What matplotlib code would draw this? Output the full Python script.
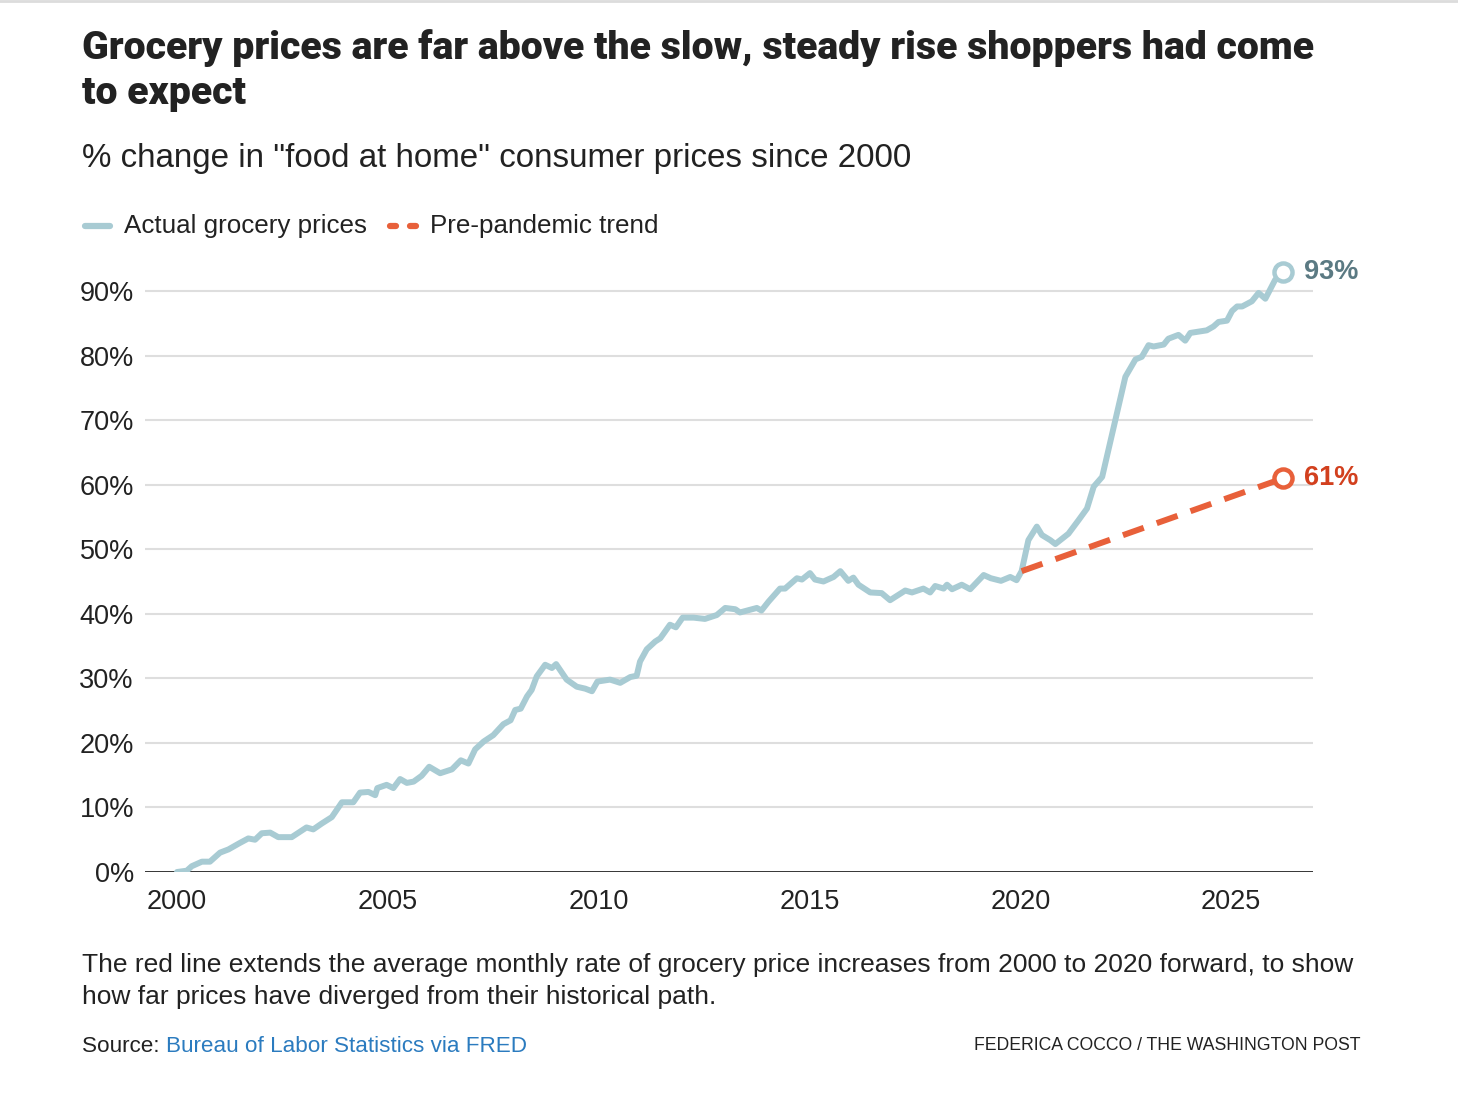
import matplotlib
matplotlib.use("Agg")
import matplotlib.pyplot as plt
from matplotlib import font_manager
from matplotlib.lines import Line2D

# ---- data ----
actual_years = [
    2000.00, 2000.23, 2000.35, 2000.59, 2000.78, 2001.02, 2001.22, 2001.49, 2001.69, 2001.85,
    2002.01, 2002.21, 2002.40, 2002.72, 2003.07, 2003.23, 2003.43, 2003.67, 2003.91, 2004.18,
    2004.34, 2004.54, 2004.70, 2004.75, 2004.97, 2005.13, 2005.29, 2005.45, 2005.61, 2005.80,
    2005.98, 2006.24, 2006.52, 2006.73, 2006.91, 2007.07, 2007.27, 2007.50, 2007.74, 2007.91,
    2008.02, 2008.15, 2008.30, 2008.41, 2008.53, 2008.73, 2008.89, 2008.99, 2009.24, 2009.48,
    2009.68, 2009.84, 2009.97, 2010.27, 2010.51, 2010.75, 2010.90, 2010.98, 2011.14, 2011.34,
    2011.46, 2011.69, 2011.83, 2011.99, 2012.25, 2012.52, 2012.80, 2013.00, 2013.24, 2013.35,
    2013.75, 2013.86, 2014.03, 2014.30, 2014.42, 2014.70, 2014.82, 2015.01, 2015.13, 2015.33,
    2015.57, 2015.73, 2015.92, 2016.04, 2016.16, 2016.44, 2016.71, 2016.91, 2017.27, 2017.43,
    2017.70, 2017.86, 2017.98, 2018.18, 2018.26, 2018.38, 2018.61, 2018.81, 2019.13, 2019.30,
    2019.54, 2019.76, 2019.91, 2020.03, 2020.19, 2020.39, 2020.51, 2020.71, 2020.83, 2021.14,
    2021.38, 2021.58, 2021.74, 2021.94, 2022.05, 2022.29, 2022.49, 2022.73, 2022.88, 2023.04,
    2023.16, 2023.40, 2023.51, 2023.75, 2023.91, 2024.03, 2024.42, 2024.58, 2024.70, 2024.90,
    2025.02, 2025.14, 2025.26, 2025.49, 2025.65, 2025.81, 2026.04, 2026.24,
]
actual_pct = [
    0.0, 0.2, 0.9, 1.6, 1.6, 3.0, 3.5, 4.5, 5.2, 5.0,
    6.0, 6.1, 5.4, 5.4, 6.9, 6.6, 7.5, 8.5, 10.8, 10.8,
    12.3, 12.4, 11.9, 13.0, 13.5, 13.0, 14.4, 13.8, 14.0, 14.9,
    16.3, 15.3, 15.9, 17.3, 16.8, 19.0, 20.2, 21.2, 22.9, 23.5,
    25.1, 25.3, 27.2, 28.2, 30.3, 32.1, 31.6, 32.2, 29.8, 28.7,
    28.4, 28.0, 29.5, 29.8, 29.3, 30.2, 30.4, 32.6, 34.5, 35.7,
    36.2, 38.3, 37.9, 39.4, 39.4, 39.2, 39.8, 40.9, 40.7, 40.2,
    40.9, 40.5, 41.9, 43.9, 43.9, 45.5, 45.3, 46.3, 45.3, 45.0,
    45.7, 46.6, 45.1, 45.6, 44.5, 43.3, 43.2, 42.1, 43.6, 43.3,
    43.9, 43.3, 44.3, 43.9, 44.5, 43.8, 44.5, 43.8, 46.0, 45.5,
    45.1, 45.7, 45.2, 46.6, 51.4, 53.5, 52.2, 51.4, 50.8, 52.4,
    54.5, 56.3, 59.7, 61.2, 64.3, 71.1, 76.7, 79.4, 79.8, 81.6,
    81.4, 81.7, 82.6, 83.2, 82.3, 83.5, 83.9, 84.5, 85.2, 85.4,
    86.9, 87.6, 87.6, 88.4, 89.7, 88.8, 91.7, 93.0,
]
trend_years = [2020.03, 2026.24]
trend_pct = [46.6, 61.0]

yticks = [0, 10, 20, 30, 40, 50, 60, 70, 80, 90]
xticks = [2000, 2005, 2010, 2015, 2020, 2025]

BLUE = "#a8cbd3"
RED = "#e8603a"
RED_TXT = "#d2401e"
SLATE = "#5b7a83"
INK = "#222222"

available = {f.name for f in font_manager.fontManager.ttflist}


def pick(*names):
    for n in names:
        if n in available:
            return n
    return "DejaVu Sans"


BODY = pick("Liberation Sans", "Roboto", "DejaVu Sans")
HEAD = pick("Roboto", "Liberation Sans")
plt.rcParams["font.family"] = [BODY, "DejaVu Sans"]

W, H = 1458, 1096
fig = plt.figure(figsize=(W / 100, H / 100), dpi=100)


def fx(px):
    return px / W


def fy(py):
    return 1 - py / H


# axes: x 145..1313 px, y 0% at 872 px, 6.456 px per 1%
ymax = 95
ax = fig.add_axes([fx(145), fy(872), fx(1313 - 145), ymax * 6.456 / H])
ax.set_xlim(1999.24, 2026.94)
ax.set_ylim(0, ymax)

for v in yticks[1:]:
    ax.axhline(v, color="#dedede", lw=1.5, zorder=1)
ax.axhline(0, color=INK, lw=2.0, zorder=2)

ax.plot(actual_years, actual_pct, color=BLUE, lw=4.3, solid_joinstyle="round",
        solid_capstyle="round", zorder=3)
ax.plot(trend_years, trend_pct, color=RED, lw=4.3, linestyle=(0, (3.7, 2.3)),
        dash_capstyle="butt", zorder=4)

ax.plot(actual_years[-1], actual_pct[-1], "o", ms=13, mfc="white", mec=BLUE, mew=3.2, zorder=5)
ax.plot(trend_years[-1], trend_pct[-1], "o", ms=13, mfc="white", mec=RED, mew=3.2, zorder=5)
ax.annotate("%d%%" % round(actual_pct[-1]), (actual_years[-1], actual_pct[-1]),
            xytext=(15, 0), textcoords="offset points", va="center", ha="left",
            fontsize=19.5, fontweight="bold", color=SLATE)
ax.annotate("%d%%" % round(trend_pct[-1]), (trend_years[-1], trend_pct[-1]),
            xytext=(15, 0), textcoords="offset points", va="center", ha="left",
            fontsize=19.5, fontweight="bold", color=RED_TXT)

ax.set_yticks(yticks)
ax.set_yticklabels(["%d%%" % v for v in yticks])
ax.set_xticks(xticks)
ax.set_xticklabels([str(v) for v in xticks])
ax.tick_params(axis="both", length=0, labelsize=19.5, labelcolor=INK)
ax.tick_params(axis="y", pad=8)
ax.tick_params(axis="x", pad=12)
for s in ax.spines.values():
    s.set_visible(False)

# ---- text ----
renderer = fig.canvas.get_renderer()


def fit(t, target_px):
    # scale font size so the text spans target_px
    w = t.get_window_extent(renderer).width
    t.set_fontsize(t.get_fontsize() * target_px / w)
    return t.get_fontsize()


t1 = fig.text(fx(82), fy(48), "Grocery prices are far above the slow, steady rise shoppers had come",
              family=[HEAD, "DejaVu Sans"], fontweight="heavy", fontsize=25, color=INK, va="center")
ts = fit(t1, 1233)
fig.text(fx(82), fy(93), "to expect",
         family=[HEAD, "DejaVu Sans"], fontweight="heavy", fontsize=ts, color=INK, va="center")
sub = fig.text(fx(82), fy(159), '% change in "food at home" consumer prices since 2000',
               fontsize=21.5, color=INK, va="center")
fit(sub, 830)

# legend
fig.add_artist(Line2D([fx(85), fx(110)], [fy(226), fy(226)], color=BLUE, lw=4.5,
                      solid_capstyle="round", transform=fig.transFigure))
lg1 = fig.text(fx(124), fy(226), "Actual grocery prices", fontsize=18, color=INK, va="center")
fit(lg1, 243)
for a, b in [(390, 396), (410, 416)]:
    fig.add_artist(Line2D([fx(a), fx(b)], [fy(226), fy(226)], color=RED, lw=4.5,
                          solid_capstyle="round", transform=fig.transFigure))
lg2 = fig.text(fx(430), fy(226), "Pre-pandemic trend", fontsize=18, color=INK, va="center")
fit(lg2, 228)

n1 = fig.text(fx(82), fy(965),
              "The red line extends the average monthly rate of grocery price increases from 2000 to 2020 forward, to show",
              fontsize=18, color=INK, va="center")
ns = fit(n1, 1271)
fig.text(fx(82), fy(997), "how far prices have diverged from their historical path.",
         fontsize=ns, color=INK, va="center")

probe = fig.text(0, 0, "Source: Bureau of Labor Statistics via FRED", fontsize=16)
ss = fit(probe, 444)
probe.remove()
src = fig.text(fx(82), fy(1046), "Source: ", fontsize=ss, color=INK, va="center")
bb = src.get_window_extent(renderer)
fig.text(bb.x1 / W, fy(1046), "Bureau of Labor Statistics via FRED",
         fontsize=ss, color="#2b7bbf", va="center")
cr = fig.text(fx(1361), fy(1045), "FEDERICA COCCO / THE WASHINGTON POST",
              fontsize=14, color=INK, va="center", ha="right")
fit(cr, 388)

fig.add_artist(Line2D([0, 1], [fy(1), fy(1)], color="#dcdcdc", lw=2, transform=fig.transFigure))

fig.savefig("out.png", dpi=100, facecolor="white")
